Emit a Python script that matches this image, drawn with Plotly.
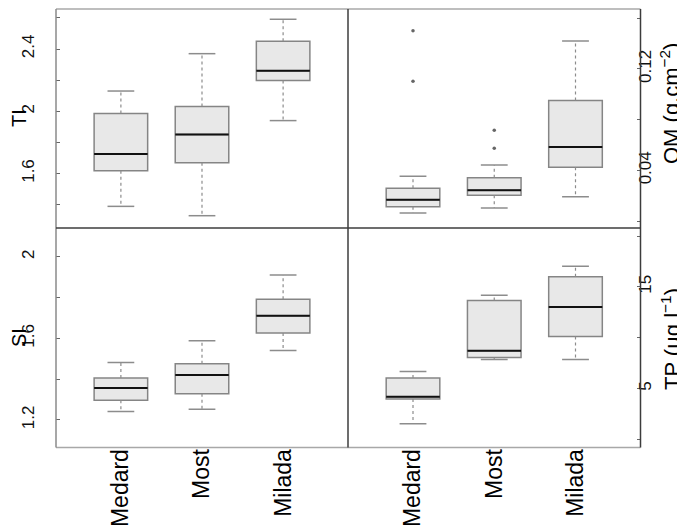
import plotly.graph_objects as go

sites = ["Medard", "Most", "Milada"]

# TI
ti_low = [1.389, 1.329, 1.940]
ti_q1 = [1.618, 1.670, 2.197]
ti_med = [1.726, 1.850, 2.261]
ti_q3 = [1.985, 2.030, 2.450]
ti_high = [2.130, 2.370, 2.591]

# OM (g.cm-2)
om_low = [0.0063, 0.0103, 0.0192]
om_q1 = [0.0113, 0.0203, 0.0424]
om_med = [0.0168, 0.0242, 0.0584]
om_q3 = [0.0258, 0.0342, 0.0952]
om_high = [0.0353, 0.0442, 0.1420]
om_out_site = ["Medard", "Medard", "Most", "Most"]
om_out_val = [0.1501, 0.1102, 0.0716, 0.0574]

# SI
si_low = [1.242, 1.252, 1.541]
si_q1 = [1.297, 1.329, 1.626]
si_med = [1.357, 1.421, 1.711]
si_q3 = [1.406, 1.475, 1.792]
si_high = [1.482, 1.588, 1.910]

# TP (ug.l-1)
tp_low = [1.54, 7.86, 7.86]
tp_q1 = [3.97, 8.06, 10.13]
tp_med = [4.21, 8.71, 13.03]
tp_q3 = [6.05, 13.65, 15.99]
tp_high = [6.68, 14.18, 17.04]

# axis ticks (labelled and unlabelled)
ti_tickvals = [1.6, 2.0, 2.4]
ti_ticktext = ["1.6", "2", "2.4"]
ti_minor = [1.4, 1.8, 2.2, 2.6]
om_tickvals = [0.04, 0.12]
om_ticktext = ["0.04", "0.12"]
om_minor = [0.0, 0.08, 0.16]
si_tickvals = [1.2, 1.6, 2.0]
si_ticktext = ["1.2", "1.6", "2"]
si_minor = [1.4, 1.8]
tp_tickvals = [5, 15]
tp_ticktext = ["5", "15"]
tp_minor = [0, 10, 20]

titles = ["TI", "OM (g.cm<sup>−2</sup>)", "SI", "TP (µg.l<sup>−1</sup>)"]

FONT = "Liberation Sans, Arial, Helvetica, sans-serif"
BOX_W = 0.66
CAP_W = 0.33
pos = {s: i + 1 for i, s in enumerate(sites)}
xs = [pos[s] for s in sites]

fig = go.Figure()


def add_panel(xa, ya, low, q1, med, q3, high, out_site=None, out_val=None):
    fig.add_trace(go.Box(
        x=xs, q1=q1, median=med, q3=q3, lowerfence=q1, upperfence=q3,
        width=BOX_W, fillcolor="#e8e8e8",
        line=dict(color="#858585", width=1.5),
        boxpoints=False, showlegend=False, hoverinfo="skip",
        xaxis=xa, yaxis=ya,
    ))
    wx, wy, cx, cy, mx, my = [], [], [], [], [], []
    for x, lo, a, m, b, hi in zip(xs, low, q1, med, q3, high):
        wx += [x, x, None, x, x, None]
        wy += [b, hi, None, a, lo, None]
        cx += [x - CAP_W / 2, x + CAP_W / 2, None, x - CAP_W / 2, x + CAP_W / 2, None]
        cy += [hi, hi, None, lo, lo, None]
        mx += [x - BOX_W / 2, x + BOX_W / 2, None]
        my += [m, m, None]
    fig.add_trace(go.Scatter(x=wx, y=wy, mode="lines",
                             line=dict(color="#8c8c8c", width=1.2, dash="dot"),
                             showlegend=False, hoverinfo="skip", xaxis=xa, yaxis=ya))
    fig.add_trace(go.Scatter(x=cx, y=cy, mode="lines",
                             line=dict(color="#8c8c8c", width=1.5),
                             showlegend=False, hoverinfo="skip", xaxis=xa, yaxis=ya))
    fig.add_trace(go.Scatter(x=mx, y=my, mode="lines",
                             line=dict(color="#111111", width=2),
                             showlegend=False, hoverinfo="skip", xaxis=xa, yaxis=ya))
    if out_site:
        fig.add_trace(go.Scatter(x=[pos[s] for s in out_site], y=out_val, mode="markers",
                                 marker=dict(color="#666666", size=3.5),
                                 showlegend=False, hoverinfo="skip", xaxis=xa, yaxis=ya))


add_panel("x", "y", ti_low, ti_q1, ti_med, ti_q3, ti_high)
add_panel("x2", "y2", om_low, om_q1, om_med, om_q3, om_high, om_out_site, om_out_val)
add_panel("x3", "y3", si_low, si_q1, si_med, si_q3, si_high)
add_panel("x4", "y4", tp_low, tp_q1, tp_med, tp_q3, tp_high)

W, H = 685, 528
xL = [48 / W, 340 / W]
xR = [340 / W, 632.5 / W]
yT = [1 - 220 / H, 1 - 1 / H]
yB = [1 - 439.5 / H, 1 - 220 / H]

xcommon = dict(range=[0.2, 3.8], showgrid=False, zeroline=False, showline=False)
tickfont = dict(family=FONT, size=17, color="#111111")


def yax(domain, rng, tv, tt, minor, side, anchor, standoff):
    return dict(domain=domain, range=rng, anchor=anchor, side=side,
                tickmode="array", tickvals=tv, ticktext=tt,
                ticks="inside", ticklen=4, tickcolor="#666666", tickwidth=1,
                minor=dict(tickmode="array", tickvals=minor, ticks="inside", ticklen=4,
                           tickcolor="#666666", tickwidth=1, showgrid=False),
                tickangle=-90, ticklabelstandoff=standoff,
                tickfont=tickfont, showgrid=False, zeroline=False, showline=False)


xtickfont = dict(family=FONT, size=23, color="#000000")

fig.update_layout(
    width=W, height=H,
    margin=dict(l=0, r=0, t=0, b=0),
    paper_bgcolor="white", plot_bgcolor="white",
    font=dict(family=FONT),
    xaxis=dict(domain=xL, anchor="y", showticklabels=False, ticks="", **xcommon),
    xaxis2=dict(domain=xR, anchor="y2", showticklabels=False, ticks="", **xcommon),
    xaxis3=dict(domain=xL, anchor="y3", tickvals=xs, ticktext=sites, tickangle=-90,
                ticks="", ticklabelstandoff=-4, tickfont=xtickfont, **xcommon),
    xaxis4=dict(domain=xR, anchor="y4", tickvals=xs, ticktext=sites, tickangle=-90,
                ticks="", ticklabelstandoff=-4, tickfont=xtickfont, **xcommon),
    yaxis=yax(yT, [1.25, 2.657], ti_tickvals, ti_ticktext, ti_minor, "left", "x", 18),
    yaxis2=yax(yT, [-0.0055, 0.1673], om_tickvals, om_ticktext, om_minor, "right", "x2", -8),
    yaxis3=yax(yB, [1.065, 2.141], si_tickvals, si_ticktext, si_minor, "left", "x3", 18),
    yaxis4=yax(yB, [-0.79, 20.79], tp_tickvals, tp_ticktext, tp_minor, "right", "x4", -8),
)

# axis titles placed as rotated annotations
title_pos = [(11, 110, 20), (662, 96, 22), (11, 330, 20), (663, 331, 22)]
for t, (px, py, fs) in zip(titles, title_pos):
    fig.add_annotation(text=t, xref="paper", yref="paper", x=px / W, y=1 - py / H,
                       xanchor="center", yanchor="middle", textangle=-90,
                       showarrow=False, font=dict(family=FONT, size=fs, color="#000000"))

light = "#a8a8a8"
mid = "#8a8a8a"
dark = "#3c3c3c"
x0, xm, x1 = xL[0], xL[1], xR[1]
yb, ym, yt = yB[0], yT[0], yT[1]
lines = [
    (x0, yt, x1, yt, light),   # top
    (x0, yb, x1, yb, light),   # bottom
    (x0, yb, x0, yt, mid),     # left
    (x1, yb, x1, yt, dark),    # right
    (xm, yb, xm, yt, dark),    # vertical divider
    (x0, ym, x1, ym, dark),    # horizontal divider
]
for a, b, c, d, col in lines:
    fig.add_shape(type="line", xref="paper", yref="paper", x0=a, y0=b, x1=c, y1=d,
                  line=dict(color=col, width=1.5), layer="above")

fig.write_html("out.html")
